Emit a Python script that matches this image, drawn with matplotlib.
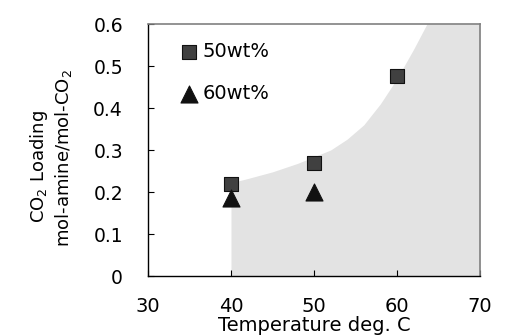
import matplotlib
matplotlib.use("Agg")
import matplotlib.pyplot as plt
import numpy as np

temp_50 = [40, 50, 60]
load_50 = [0.22, 0.27, 0.476]
temp_60 = [40, 50]
load_60 = [0.186, 0.20]

region_t = [40, 42, 45, 48, 50, 52, 54, 56, 58, 60, 62, 63.6, 70]
region_y = [0.222, 0.232, 0.248, 0.268, 0.284, 0.300, 0.326, 0.36, 0.41, 0.47, 0.54, 0.6, 0.6]

xticks = [30, 40, 50, 60, 70]
yticks = [0, 0.1, 0.2, 0.3, 0.4, 0.5, 0.6]
ytick_labels = ["0", "0.1", "0.2", "0.3", "0.4", "0.5", "0.6"]

plt.rcParams['font.family'] = ['DejaVu Sans']

fig = plt.figure(figsize=(5.18, 3.35), dpi=100)
ax = fig.add_axes([148/518, 1-276/335, (480-148)/518, (276-24)/335])

ax.fill_between(region_t, 0, region_y, color='#e3e3e3', linewidth=0, zorder=0)

ax.scatter(temp_50, load_50, marker='s', s=112, facecolor='#404040', edgecolor='#111111', linewidth=0.8, zorder=3, label='50wt%')
ax.scatter(temp_60, load_60, marker='^', s=150, facecolor='#111111', edgecolor='#111111', linewidth=0.8, zorder=3, label='60wt%')

ax.set_xlim(30, 70)
ax.set_ylim(0, 0.6)
ax.set_xticks(xticks)
ax.set_yticks(yticks)
ax.set_yticklabels(ytick_labels)
ax.tick_params(direction='in', length=4, width=0.8)
ax.tick_params(axis='x', pad=15, labelsize=14)
ax.tick_params(axis='y', pad=18, labelsize=13.5)

for s in ['left', 'bottom']:
    ax.spines[s].set_color('black')
    ax.spines[s].set_linewidth(1.0)
for s in ['top', 'right']:
    ax.spines[s].set_color('#808080')
    ax.spines[s].set_linewidth(1.2)

ax.set_xlabel('Temperature deg. C', fontsize=14)
ax.xaxis.set_label_coords(0.5, -0.157)

fig.text(39/518, 1-167/335, 'CO$_2$ Loading', rotation=90, ha='center', va='center', fontsize=13)
fig.text(64/518, 1-158/335, 'mol-amine/mol-CO$_2$', rotation=90, ha='center', va='center', fontsize=13)

leg = ax.legend(loc='upper left', frameon=False, fontsize=14, handletextpad=0.2,
                labelspacing=1.2, borderaxespad=0, borderpad=0,
                bbox_to_anchor=(0.094, 0.928), handlelength=1.0)

fig.savefig('out.png', dpi=100)
